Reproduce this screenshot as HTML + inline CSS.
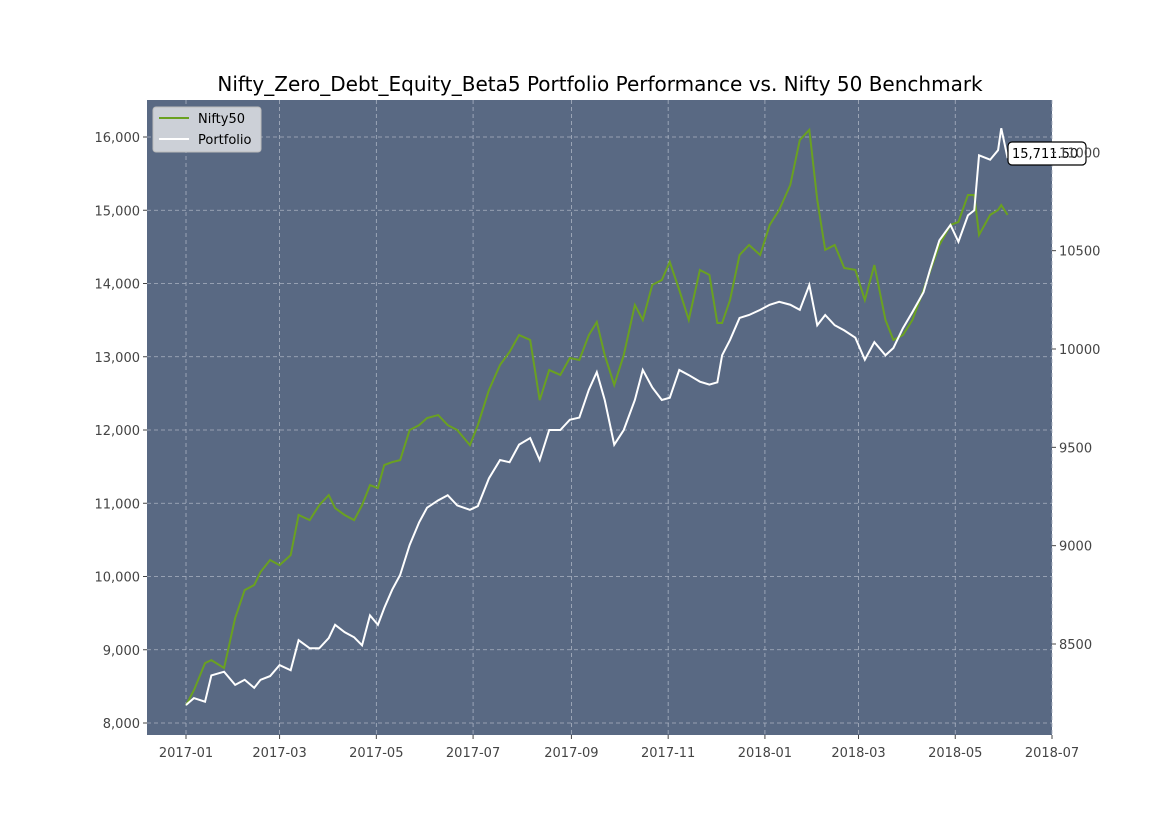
<!DOCTYPE html>
<html><head><meta charset="utf-8"><style>
body{margin:0;background:#fff;font-family:"Liberation Sans","DejaVu Sans",sans-serif;}
svg text{font-family:"DejaVu Sans","Liberation Sans",sans-serif;}
</style></head><body>
<svg id="chart" width="1170" height="827"><defs><clipPath id="pc"><rect x="147" y="100" width="905" height="635"/></clipPath></defs></svg>
<script>
const dates=["2017-01-01","2017-01-06","2017-01-13","2017-01-17","2017-01-25","2017-02-01","2017-02-07","2017-02-13","2017-02-17","2017-02-23","2017-03-01","2017-03-08","2017-03-13","2017-03-20","2017-03-26","2017-04-01","2017-04-05","2017-04-11","2017-04-17","2017-04-22","2017-04-27","2017-05-02","2017-05-06","2017-05-11","2017-05-16","2017-05-22","2017-05-28","2017-06-02","2017-06-09","2017-06-15","2017-06-21","2017-06-29","2017-07-04","2017-07-11","2017-07-18","2017-07-24","2017-07-30","2017-08-06","2017-08-12","2017-08-18","2017-08-25","2017-08-31","2017-09-06","2017-09-12","2017-09-17","2017-09-22","2017-09-28","2017-10-04","2017-10-11","2017-10-16","2017-10-22","2017-10-28","2017-11-02","2017-11-08","2017-11-14","2017-11-21","2017-11-27","2017-12-02","2017-12-05","2017-12-10","2017-12-16","2017-12-22","2017-12-29","2018-01-04","2018-01-10","2018-01-17","2018-01-23","2018-01-29","2018-02-03","2018-02-08","2018-02-14","2018-02-20","2018-02-27","2018-03-05","2018-03-11","2018-03-18","2018-03-23","2018-03-29","2018-04-04","2018-04-11","2018-04-15","2018-04-21","2018-04-28","2018-05-03","2018-05-09","2018-05-13","2018-05-16","2018-05-23","2018-05-28","2018-05-30","2018-06-03"];
const portfolio=[8245,8340,8290,8650,8700,8520,8590,8480,8590,8640,8790,8720,9130,9020,9020,9160,9340,9240,9170,9060,9470,9340,9570,9820,10020,10430,10740,10940,11040,11110,10970,10910,10960,11340,11590,11560,11800,11890,11590,12000,12000,12140,12170,12550,12790,12410,11800,12000,12410,12820,12580,12410,12440,12820,12750,12660,12620,12650,13020,13230,13530,13570,13640,13710,13750,13710,13640,13980,13430,13570,13430,13360,13260,12960,13200,13020,13120,13390,13610,13880,14180,14590,14800,14570,14930,15000,15750,15690,15820,16120,15711.5];
const nifty=[8189,8265,8403,8418,8378,8632,8774,8800,8866,8927,8901,8952,9156,9130,9206,9257,9191,9156,9130,9206,9308,9293,9410,9425,9435,9588,9613,9649,9664,9613,9588,9511,9613,9791,9919,9985,10071,10046,9740,9893,9868,9954,9944,10071,10137,9969,9817,9969,10224,10148,10326,10351,10443,10300,10148,10402,10377,10132,10132,10249,10478,10529,10478,10631,10707,10834,11063,11114,10758,10504,10529,10412,10402,10249,10427,10148,10046,10071,10148,10300,10392,10529,10631,10646,10783,10783,10580,10682,10707,10732,10682];
const leftTicks=[8000,9000,10000,11000,12000,13000,14000,15000,16000];
const rightTicks=[8500,9000,9500,10000,10500,11000];
const xTicks=["2017-01","2017-03","2017-05","2017-07","2017-09","2017-11","2018-01","2018-03","2018-05","2018-07"];

const NS="http://www.w3.org/2000/svg";
const svg=document.getElementById('chart');
const L=147,R=1052,T=100,B=735;
const t0=Date.parse("2017-01-01"),t1=Date.parse("2018-07-01");
const xs=d=>186+(Date.parse(d)-t0)/(t1-t0)*(1052-186);
const yl=v=>723-(v-8000)*(723-137)/8000;
const yr=v=>349-(v-10000)*(644-349)/(10000-8500);
function el(tag,attrs,parent){const e=document.createElementNS(NS,tag);for(const k in attrs)e.setAttribute(k,attrs[k]);(parent||svg).appendChild(e);return e;}
function fmt(v){return v.toLocaleString('en-US');}

const bg=el('rect',{x:L,y:T,width:R-L,height:B-T,fill:'#596983'});



xTicks.forEach(s=>{const x=xs(s+"-01");
 const g=el('line',{x1:x,x2:x,y1:T,y2:B,stroke:'#aab3c2','stroke-width':0.8,'stroke-dasharray':'4,3'});
 
 
 el('line',{x1:x,x2:x,y1:B,y2:B+4,stroke:'#444'});
 const t=el('text',{x:x,y:B+22,'text-anchor':'middle','font-size':13,fill:'#444'});t.textContent=s;
 
 
});
leftTicks.forEach(v=>{const y=yl(v);
 const g=el('line',{x1:L,x2:R,y1:y,y2:y,stroke:'#aab3c2','stroke-width':0.8,'stroke-dasharray':'4,3'});
 
 
 el('line',{x1:L-4,x2:L,y1:y,y2:y,stroke:'#444'});
 const t=el('text',{x:L-7,y:y+5,'text-anchor':'end','font-size':13,fill:'#444'});t.textContent=fmt(v);
 
 
});

const pn=el('polyline',{points:dates.map((d,i)=>xs(d)+','+yr(nifty[i])).join(' '),fill:'none',stroke:'#6aa121','stroke-width':2,'clip-path':'url(#pc)'});


const pp=el('polyline',{points:dates.map((d,i)=>xs(d)+','+yl(portfolio[i])).join(' '),fill:'none',stroke:'#ffffff','stroke-width':2,'clip-path':'url(#pc)'});



const title=el('text',{x:600,y:91,'text-anchor':'middle','font-size':20,fill:'#000'});
title.textContent="Nifty_Zero_Debt_Equity_Beta5 Portfolio Performance vs. Nifty 50 Benchmark";



const lg=el('g',{});


el('rect',{x:153,y:107,width:108,height:45,rx:3,fill:'#ccd0d7',stroke:'#bbb'},lg);
el('line',{x1:159,x2:189,y1:118,y2:118,stroke:'#6aa121','stroke-width':2},lg);
const l1=el('text',{x:198,y:123,'font-size':13,fill:'#000'},lg);l1.textContent="Nifty50";


el('line',{x1:159,x2:189,y1:139,y2:139,stroke:'#fff','stroke-width':2},lg);
const l2=el('text',{x:198,y:144,'font-size':13,fill:'#000'},lg);l2.textContent="Portfolio";



const lb=el('g',{});


const last=portfolio[portfolio.length-1];
el('rect',{x:1008,y:142,width:78,height:23,rx:4,fill:'#fff',stroke:'#000','stroke-width':1.2},lb);
const lt=el('text',{x:1012,y:158,'font-size':13,fill:'#000'},lb);
lt.textContent=last.toLocaleString('en-US',{minimumFractionDigits:2,maximumFractionDigits:2});

rightTicks.forEach(v=>{const y=yr(v);
 el('line',{x1:R,x2:R+4,y1:y,y2:y,stroke:'#444'});
 const t=el('text',{x:R+7,y:y+5,'text-anchor':'start','font-size':13,fill:'#444'});t.textContent=String(v);
 
 
});
</script>
</body></html>
